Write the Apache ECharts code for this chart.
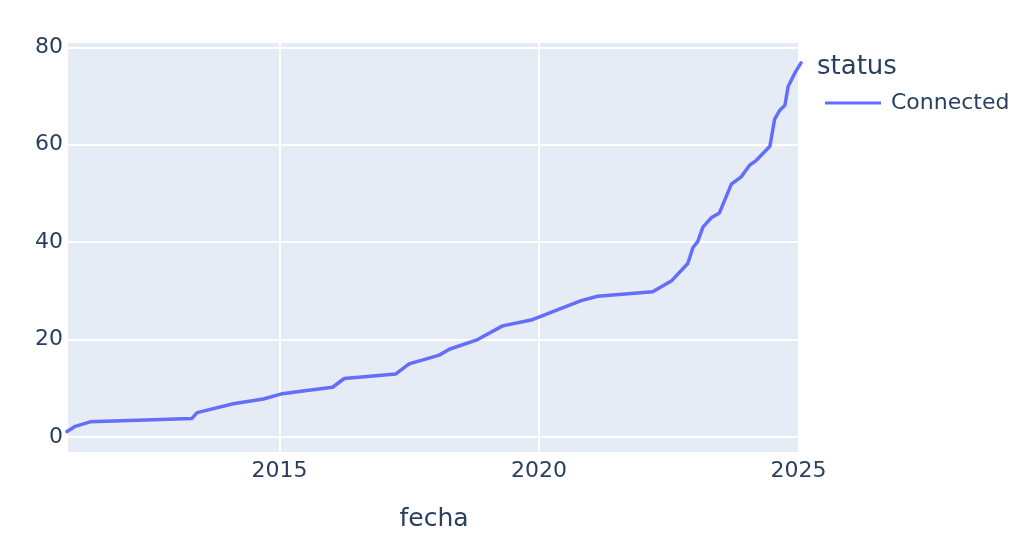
<!DOCTYPE html>
<html>
<head>
<meta charset="utf-8">
<script src="https://cdn.jsdelivr.net/npm/echarts@6/dist/echarts.min.js"></script>
<style>html,body{margin:0;padding:0;background:#fff;}#c{width:1024px;height:554px;}</style>
</head>
<body>
<div id="c"></div>
<script>
const seriesName = 'Connected';
const legendTitle = 'status';
const xTitle = 'fecha';
const dates = ['2010-11-28','2011-01-20','2011-05-10','2013-04-25','2013-06-01','2014-02-10','2014-09-10','2015-01-10','2015-06-01','2016-01-10','2016-04-01','2017-03-28','2017-07-01','2018-01-30','2018-04-10','2018-10-27','2019-04-20','2019-11-07','2020-10-24','2021-02-17','2022-03-11','2022-07-20','2022-11-13','2022-12-20','2023-01-22','2023-02-28','2023-04-27','2023-06-24','2023-09-16','2023-11-24','2024-01-22','2024-03-10','2024-06-13','2024-07-16','2024-08-22','2024-09-27','2024-10-19','2024-12-05','2025-01-18'];
const values = [1.1,2.1,3.1,3.8,5.0,6.8,7.8,8.8,9.4,10.2,12.0,12.9,15.0,16.8,18.0,20.0,22.8,24.0,28.0,28.9,29.8,32.0,35.6,38.9,40.1,43.1,45.0,46.0,51.9,53.4,55.8,56.8,59.7,65.2,67.1,68.1,71.9,74.7,76.8];
const xTickYears = [2015, 2020, 2025];
const yMin = -3.3, yMax = 81.1;

const FONT = 'DejaVu Sans';
const TXT = '#2a3f5f';
const chart = echarts.init(document.getElementById('c'), null, {renderer:'canvas'});
const data = dates.map((d,i)=>[d, values[i]]);
chart.setOption({
  animation:false,
  backgroundColor:'#fff',
  textStyle:{fontFamily:FONT, color:TXT},
  title:{text:legendTitle, left:812, top:49, textStyle:{fontFamily:FONT, fontSize:26, fontWeight:'normal', color:TXT}},
  legend:{left:820, top:87, itemWidth:56, itemHeight:3, icon:'rect', itemGap:10,
    textStyle:{fontFamily:FONT, fontSize:22, color:TXT, padding:[0,0,0,5]},
    data:[{name:seriesName, itemStyle:{color:'#636efa'}}]},
  grid:{left:67, right:223, top:42, bottom:101, show:true, backgroundColor:'#E5ECF6', borderWidth:0, containLabel:false},
  xAxis:{type:'time', min:dates[0], max:dates[dates.length-1], splitNumber:3,
    minInterval: 4.9*365*86400000,
    name:xTitle, nameLocation:'middle', nameGap:54,
    nameTextStyle:{fontFamily:FONT, fontSize:25, color:TXT},
    axisLine:{show:false}, axisTick:{show:false},
    splitLine:{show:true, lineStyle:{color:'#fff', width:2}},
    axisLabel:{fontFamily:FONT, fontSize:22, color:TXT, margin:7, showMinLabel:false, showMaxLabel:false,
      formatter:function(v){const d=new Date(v); const y=d.getFullYear(); return xTickYears.indexOf(y)>=0 ? String(y) : '';}}},
  yAxis:{type:'value', min:yMin, max:yMax, splitNumber:4,
    axisLine:{show:false}, axisTick:{show:false},
    splitLine:{show:true, lineStyle:{color:'#fff', width:2}},
    axisLabel:{fontFamily:FONT, fontSize:22, color:TXT, margin:4, showMinLabel:false, showMaxLabel:false}},
  series:[{name:seriesName, type:'line', data:data, showSymbol:false, symbol:'none',
    lineStyle:{color:'#636efa', width:3.5, join:'round', cap:'round'}, itemStyle:{color:'#636efa'}}]
});
</script>
</body>
</html>
